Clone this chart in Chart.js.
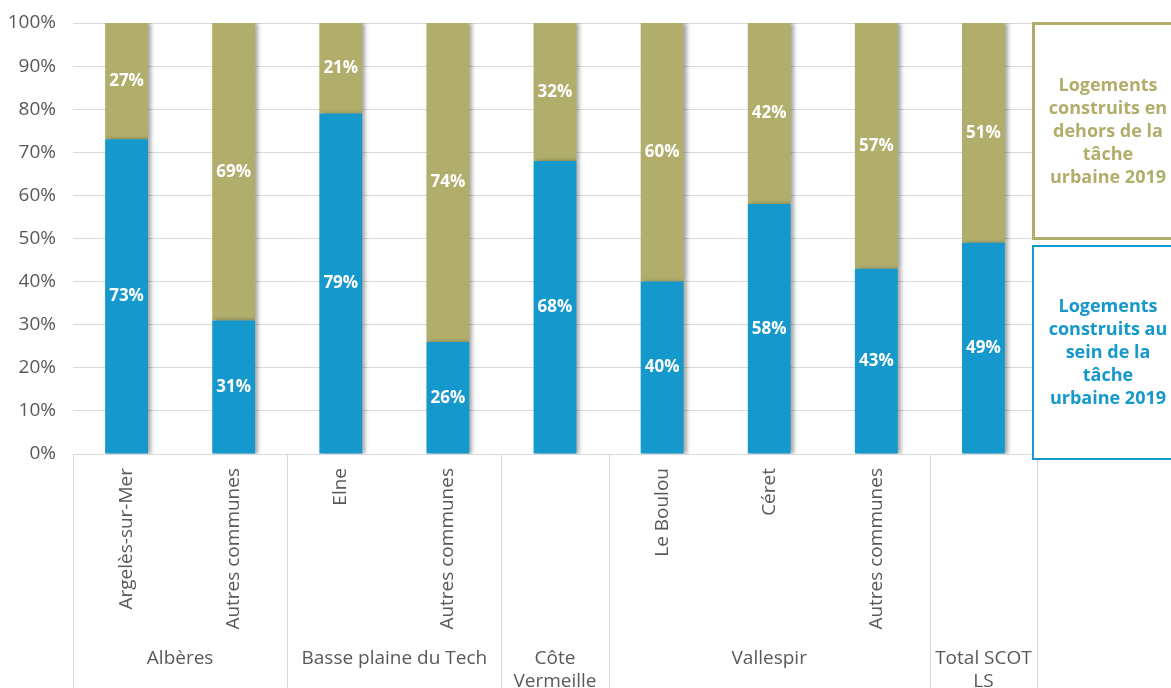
<!DOCTYPE html>
<html lang="fr">
<head>
<meta charset="utf-8">
<title>Logements construits et tâche urbaine 2019</title>
<script src="https://cdn.jsdelivr.net/npm/chart.js@4.4.1/dist/chart.umd.min.js"></script>
<style>
  html, body { margin: 0; padding: 0; background: #ffffff; overflow: hidden; }
  #wrap { width: 1171px; height: 688px; position: relative; }
</style>
</head>
<body>
<div id="wrap"><canvas id="chart" width="1171" height="688"></canvas></div>
<script>
// Communes (sub-categories along the x axis)
const communes = ['Argelès-sur-Mer', 'Autres communes', 'Elne', 'Autres communes', '', 'Le Boulou', 'Céret', 'Autres communes', ''];
// Territories grouping the communes, and how many bars each one spans
const groupNames = [['Albères'], ['Basse plaine du Tech'], ['Côte', 'Vermeille'], ['Vallespir'], ['Total SCOT', 'LS']];
const groupSizes = [2, 2, 1, 3, 1];

// Share of housing built inside / outside the 2019 urban footprint (%)
const insideShare = [73, 31, 79, 26, 68, 40, 58, 43, 49];
const outsideShare = [27, 69, 21, 74, 32, 60, 42, 57, 51];

const seriesNames = ['Logements construits au sein de la tâche urbaine 2019', 'Logements construits en dehors de la tâche urbaine 2019'];
const legendLines = [
  ['Logements', 'construits au', 'sein de la', 'tâche', 'urbaine 2019'],
  ['Logements', 'construits en', 'dehors de la', 'tâche', 'urbaine 2019']
];
const yTicks = [0, 10, 20, 30, 40, 50, 60, 70, 80, 90, 100];

const BLUE = '#1598CB';
const OLIVE = '#B1AE6C';
const GREY_TEXT = '#595959';
const GRID = '#D9D9D9';
const FONT = '"Open Sans", "DejaVu Sans", sans-serif';

// Soft shadow on the right side of the bars
const barShadow = {
  id: 'barShadow',
  beforeDatasetsDraw(chart) {
    const ctx = chart.ctx;
    ctx.save();
    ctx.shadowColor = 'rgba(0,0,0,0.35)';
    ctx.shadowBlur = 4;
    ctx.shadowOffsetX = 3;
    ctx.shadowOffsetY = 0;
  },
  afterDatasetsDraw(chart) {
    chart.ctx.restore();
  }
};

// White percentage labels centred in each segment
const segmentLabels = {
  id: 'segmentLabels',
  afterDatasetsDraw(chart) {
    const ctx = chart.ctx;
    ctx.save();
    ctx.fillStyle = '#ffffff';
    ctx.font = 'bold 17px ' + FONT;
    ctx.textAlign = 'center';
    ctx.textBaseline = 'middle';
    chart.data.datasets.forEach((ds, di) => {
      const meta = chart.getDatasetMeta(di);
      meta.data.forEach((bar, i) => {
        const v = ds.data[i];
        const y = (bar.y + bar.base) / 2;
        ctx.fillText(v + '%', bar.x, y);
      });
    });
    ctx.restore();
  }
};

// Group separators and territory names below the rotated commune labels
const groupAxis = {
  id: 'groupAxis',
  afterDraw(chart) {
    const ctx = chart.ctx;
    const x = chart.scales.x;
    const area = chart.chartArea;
    const step = (x.getPixelForValue(1) - x.getPixelForValue(0));
    const bottom = chart.height;
    ctx.save();
    ctx.strokeStyle = GRID;
    ctx.lineWidth = 1;
    let start = 0;
    const bounds = [x.getPixelForValue(0) - step / 2];
    groupSizes.forEach(n => {
      start += n;
      bounds.push(x.getPixelForValue(start - 1) + step / 2);
    });
    bounds.forEach(bx => {
      const px = Math.round(bx) + 0.5;
      ctx.beginPath();
      ctx.moveTo(px, area.bottom);
      ctx.lineTo(px, bottom);
      ctx.stroke();
    });
    ctx.fillStyle = GREY_TEXT;
    ctx.font = '19px ' + FONT;
    ctx.textAlign = 'center';
    ctx.textBaseline = 'middle';
    groupNames.forEach((lines, g) => {
      const cx = (bounds[g] + bounds[g + 1]) / 2;
      lines.forEach((line, k) => ctx.fillText(line, cx, 659 + k * 23));
    });
    ctx.restore();
  }
};

// Boxed series captions on the right
const sideLegend = {
  id: 'sideLegend',
  afterDraw(chart) {
    const ctx = chart.ctx;
    const boxes = [
      { color: OLIVE, lines: legendLines[1], x: 1033.5, y: 23.5, w: 160, h: 215, lw: 3, cy: 132 },
      { color: BLUE, lines: legendLines[0], x: 1033, y: 246, w: 160, h: 213, lw: 2, cy: 353 }
    ];
    ctx.save();
    boxes.forEach(b => {
      ctx.fillStyle = '#ffffff';
      ctx.fillRect(b.x, b.y, b.w, b.h);
      ctx.strokeStyle = b.color;
      ctx.lineWidth = b.lw;
      ctx.strokeRect(b.x, b.y, b.w, b.h);
      ctx.fillStyle = b.color;
      ctx.font = 'bold 18px ' + FONT;
      ctx.textAlign = 'center';
      ctx.textBaseline = 'middle';
      b.lines.forEach((line, k) => ctx.fillText(line, 1108, b.cy + (k - 2) * 23));
    });
    ctx.restore();
  }
};

new Chart(document.getElementById('chart'), {
  type: 'bar',
  data: {
    labels: communes,
    datasets: [
      { label: seriesNames[0], data: insideShare, backgroundColor: BLUE, barPercentage: 0.8, categoryPercentage: 0.5 },
      { label: seriesNames[1], data: outsideShare, backgroundColor: OLIVE, barPercentage: 0.8, categoryPercentage: 0.5 }
    ]
  },
  options: {
    responsive: false,
    devicePixelRatio: 1,
    animation: false,
    layout: { padding: { left: 0, right: 134, top: 23, bottom: 0 } },
    plugins: {
      legend: { display: false },
      tooltip: { enabled: false }
    },
    scales: {
      x: {
        stacked: true,
        grid: { display: false },
        border: { display: false },
        ticks: {
          autoSkip: false,
          minRotation: 90,
          maxRotation: 90,
          padding: 6,
          color: GREY_TEXT,
          font: { family: FONT, size: 19 }
        },
        afterFit(scale) { scale.height = 234; }
      },
      y: {
        stacked: true,
        min: 0,
        max: 100,
        afterBuildTicks(scale) { scale.ticks = yTicks.map(v => ({ value: v })); },
        grid: { color: GRID, drawTicks: false },
        border: { display: false },
        ticks: {
          padding: 17,
          color: GREY_TEXT,
          font: { family: FONT, size: 19 },
          callback: v => v + '%'
        },
        afterFit(scale) {
          scale.width = 73;
          scale.paddingTop = 0;
          scale.paddingBottom = 0;
        }
      }
    }
  },
  plugins: [barShadow, segmentLabels, groupAxis, sideLegend]
});
</script>
</body>
</html>
